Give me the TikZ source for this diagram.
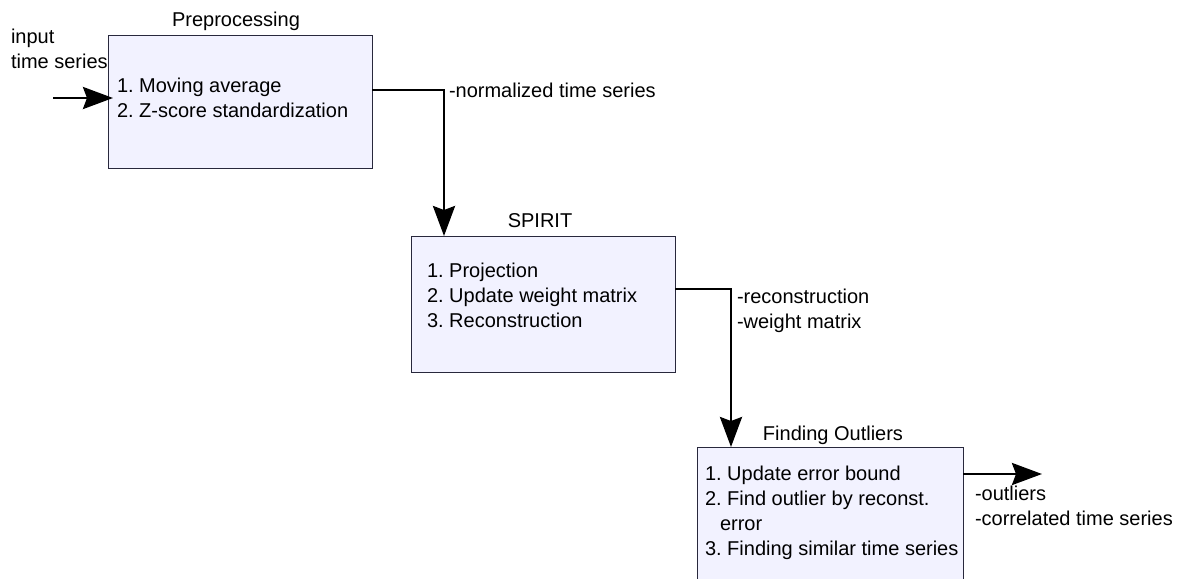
\documentclass[tikz,border=0pt]{standalone}
\usepackage{fontspec}
\setmainfont{Liberation Sans}
\usetikzlibrary{arrows.meta}
\definecolor{boxfill}{RGB}{242,242,255}
\definecolor{boxline}{RGB}{40,40,60}
\frenchspacing
\begin{document}
\begin{tikzpicture}[x=0.5pt,y=-0.5pt,
  every node/.style={font=\fontsize{10}{12.5}\selectfont, inner sep=0pt, outer sep=0pt},
  stagebox/.style={draw=boxline, line width=0.5pt, fill=boxfill, rectangle, minimum width=#1},
  txt/.style={anchor=base west},
  ttl/.style={anchor=base},
  conn/.style={line width=1.4pt, -{Stealth[length=15pt,width=11pt,inset=2pt]}}]
\useasboundingbox (0,0) rectangle (1196,579);
% boxes
\node[stagebox=132pt, minimum height=66.5pt] (pre) at (240,101.5) {};
\node[stagebox=132pt, minimum height=68pt] (spirit) at (543,304) {};
\node[stagebox=133pt, minimum height=80pt] (out) at (830,527) {};
% titles
\node[ttl] (tpre) at (236,26) {Preprocessing};
\node[ttl] (tspirit) at (540,227) {SPIRIT};
\node[ttl] (tout) at (833,440) {Finding Outliers};
% box texts
\node[txt] (p1) at (117,92) {1. Moving average};
\node[txt] (p2) at (117,117) {2. Z-score standardization};
\node[txt] (s1) at (427,277) {1. Projection};
\node[txt] (s2) at (427,302) {2. Update weight matrix};
\node[txt] (s3) at (427,327) {3. Reconstruction};
\node[txt] (o1) at (705,480) {1. Update error bound};
\node[txt] (o2) at (705,505) {2. Find outlier by reconst.};
\node[txt] (o3) at (720,530) {error};
\node[txt] (o4) at (705,555) {3. Finding similar time series};
% side labels
\node[txt] (in1) at (11,43) {input};
\node[txt] (in2) at (11,68) {time series};
\node[txt] (l1) at (449,97) {-normalized time series};
\node[txt] (l2) at (737,303) {-reconstruction};
\node[txt] (l3) at (737,328) {-weight matrix};
\node[txt] (l4) at (975,500) {-outliers};
\node[txt] (l5) at (975,525) {-correlated time series};
% connectors
\coordinate (inStart) at (53,98);
\coordinate (outEnd) at (1042,474);
\draw[conn] (inStart) -- ([xshift=2.5pt]pre.west |- inStart);
\draw[conn] ([yshift=5.75pt]pre.east) -| ([xshift=16.5pt]spirit.north west);
\draw[conn] ([yshift=7.5pt]spirit.east) -| ([xshift=17pt]out.north west);
\draw[conn] (out.east |- outEnd) -- (outEnd);
\end{tikzpicture}
\end{document}
